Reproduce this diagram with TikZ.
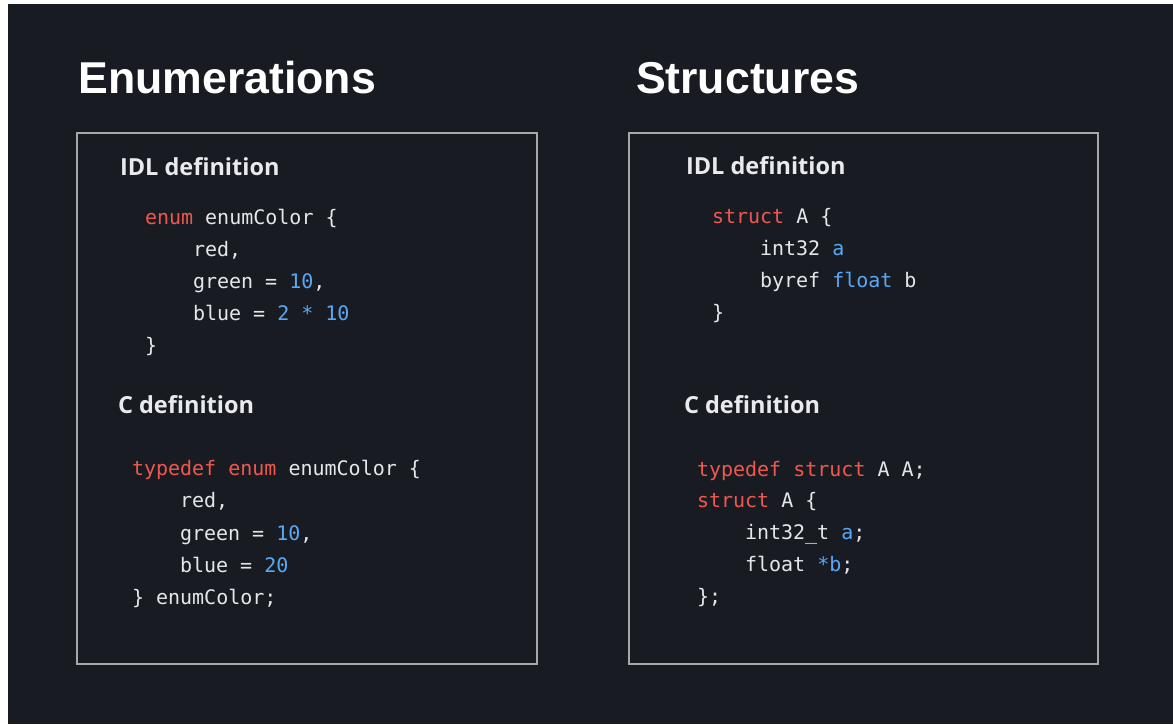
\documentclass[tikz,border=0pt]{standalone}
\usepackage{fontspec}
\setmainfont{Liberation Sans}
\newfontfamily\headfont{Open Sans}
\newfontfamily\codefont{DejaVu Sans Mono}

\definecolor{pagebg}{HTML}{181C22}
\definecolor{framegray}{HTML}{A6A8AB}
\definecolor{headfg}{HTML}{E8EAED}
\definecolor{codefg}{HTML}{E4E8EC}
\definecolor{kwred}{HTML}{F0584F}
\definecolor{numblue}{HTML}{5AA8F5}

% syntax highlighting helpers
\newcommand{\kw}[1]{\textcolor{kwred}{#1}}
\newcommand{\nm}[1]{\textcolor{numblue}{#1}}

\begin{document}
\begin{tikzpicture}[x=1pt,y=-1pt,
  title/.style={anchor=base west, inner sep=0, outer sep=0, text=white,
    font=\fontsize{44.6}{50}\selectfont\bfseries},
  heading/.style={anchor=base west, inner sep=0, outer sep=0, text=headfg,
    font=\headfont\bfseries\fontsize{23.5}{28}\selectfont},
  code/.style={anchor=base west, inner sep=0, outer sep=0, text=codefg,
    font=\codefont\fontsize{20}{24}\selectfont},
  panel/.style={draw=framegray, line width=2pt, inner sep=0, outer sep=0,
    minimum height=531pt}]

% page
\fill[white] (0,0) rectangle (1173,724);
\fill[pagebg] (8,4) rectangle (1173,724);
\useasboundingbox (0,0) rectangle (1173,724);

% titles
\node[title] (enumtitle) at (78.5,93.5) {Enumerations};
\node[title] (structtitle) at (636,93.5) {Structures};

% panels
\node[panel, minimum width=460pt] (enumpanel) at (307,398.5) {};
\node[panel, minimum width=469pt] (structpanel) at (863.5,398.5) {};

% --- enumerations: IDL ---
\node[heading] (enumidlhead) at (120,175.5) {IDL definition};
\node[code] (e1) at (145,224) {\kw{enum} enumColor \{};
\node[code] (e2) at (193,256) {red,};
\node[code] (e3) at (193,288) {green = \nm{10},};
\node[code] (e4) at (193,320) {blue = \nm{2 * 10}};
\node[code] (e5) at (145,352) {\}};

% --- enumerations: C ---
\node[heading] (enumchead) at (118,413) {C definition};
\node[code] (c1) at (132,475) {\kw{typedef enum} enumColor \{};
\node[code] (c2) at (180,507) {red,};
\node[code] (c3) at (180,540) {green = \nm{10},};
\node[code] (c4) at (180,572) {blue = \nm{20}};
\node[code] (c5) at (132,604) {\} enumColor;};

% --- structures: IDL ---
\node[heading] (structidlhead) at (686,174.5) {IDL definition};
\node[code] (s1) at (712,223) {\kw{struct} A \{};
\node[code] (s2) at (760,255) {int32 \nm{a}};
\node[code] (s3) at (760,287) {byref \nm{float} b};
\node[code] (s4) at (712,319) {\}};

% --- structures: C ---
\node[heading] (structchead) at (684,413) {C definition};
\node[code] (t1) at (697,476) {\kw{typedef struct} A A;};
\node[code] (t2) at (697,507) {\kw{struct} A \{};
\node[code] (t3) at (745,539) {int32\_t \nm{a};};
\node[code] (t4) at (745,571) {float \nm{*b};};
\node[code] (t5) at (697,603) {\};};

\end{tikzpicture}
\end{document}
